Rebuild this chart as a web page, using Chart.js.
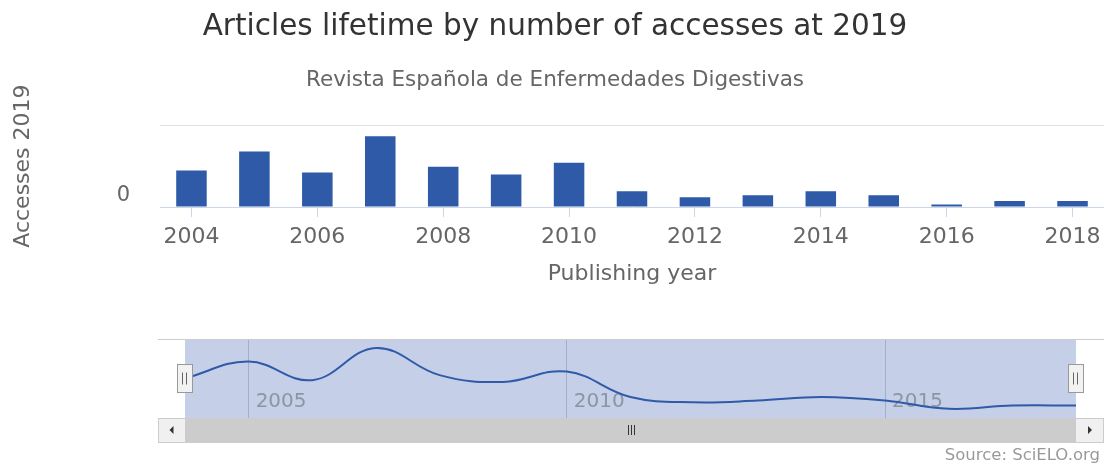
<!DOCTYPE html>
<html>
<head>
<meta charset="utf-8">
<script src="https://cdn.jsdelivr.net/npm/chart.js@4/dist/chart.umd.min.js"></script>
<style>
  html, body { margin: 0; padding: 0; background: #ffffff; }
  #wrap { position: relative; width: 1104px; height: 464px; }
  canvas { position: absolute; left: 0; top: 0; }
</style>
</head>
<body>
<div id="wrap">
  <canvas id="main" width="1104" height="464"></canvas>
  <canvas id="nav" width="1104" height="464"></canvas>
</div>
<script>
// ---- data ----
const titleText = 'Articles lifetime by number of accesses at 2019';
const subtitleText = 'Revista Española de Enfermedades Digestivas';
const yTitle = 'Accesses 2019';
const xTitle = 'Publishing year';
const creditText = 'Source: SciELO.org';
const years = ['2004','2005','2006','2007','2008','2009','2010','2011','2012','2013','2014','2015','2016','2017','2018'];
const accesses = [367, 557, 347, 710, 404, 327, 444, 157, 97, 117, 157, 117, 24, 60, 60];
const yTicks = [0];
const navYears = [2005, 2010, 2015];

const FONT = "'DejaVu Sans', sans-serif";
const BAR = '#2e5aa8';

const creditsPlugin = {
  id: 'credits',
  afterDraw(chart) {
    const ctx = chart.ctx;
    ctx.save();
    ctx.font = '16.5px ' + FONT;
    ctx.fillStyle = '#999999';
    ctx.textAlign = 'right';
    ctx.textBaseline = 'middle';
    ctx.fillText(creditText, 1100, 456);
    ctx.restore();
  }
};

new Chart(document.getElementById('main'), {
  type: 'bar',
  data: {
    labels: years,
    datasets: [{
      data: accesses,
      backgroundColor: BAR,
      borderWidth: 0,
      categoryPercentage: 1,
      barPercentage: 0.485
    }]
  },
  options: {
    responsive: false,
    animation: false,
    layout: { padding: { left: 6, right: 0, top: 0, bottom: 173 } },
    plugins: {
      legend: { display: false },
      tooltip: { enabled: false },
      title: {
        display: true, text: titleText, color: '#333333',
        font: { family: FONT, size: 29.5, weight: 'normal' },
        padding: { top: 10, bottom: 22 }
      },
      subtitle: {
        display: true, text: subtitleText, color: '#666666',
        font: { family: FONT, size: 21.5, weight: 'normal' },
        padding: { top: 0, bottom: 32 }
      }
    },
    scales: {
      x: {
        offset: true,
        grid: {
          offset: false,
          drawOnChartArea: false, drawTicks: true, tickLength: 10,
          color: (c) => (c.index % 2 === 0 ? '#ccd6eb' : 'rgba(0,0,0,0)')
        },
        border: { display: true, color: '#ccd6eb', width: 1 },
        ticks: {
          autoSkip: false, maxRotation: 0, color: '#666666', padding: 7,
          font: { family: FONT, size: 22 },
          callback: (v, i) => (i % 2 === 0 ? years[i] : '')
        },
        title: {
          display: true, text: xTitle, color: '#666666',
          font: { family: FONT, size: 22 }
        },
        afterFit: (s) => { s.height = 84; s.paddingRight = 0; s.paddingLeft = 0; }
      },
      y: {
        min: 0, max: 820,
        afterBuildTicks: (s) => { s.ticks = [{ value: 0 }, { value: 820 }]; },
        grid: {
          drawTicks: false,
          color: (c) => (c.tick && c.tick.value === 0 ? 'rgba(0,0,0,0)' : '#e0e0e0')
        },
        border: { display: false },
        ticks: {
          color: '#666666', padding: 30, labelOffset: -11,
          font: { family: FONT, size: 21 },
          callback: (v) => (yTicks.includes(v) ? String(v) : '')
        },
        title: {
          display: true, text: yTitle, color: '#666666',
          font: { family: FONT, size: 22 }
        },
        afterFit: (s) => { s.width = 154; }
      }
    }
  },
  plugins: [creditsPlugin]
});

// ---- navigator ----
const navDecor = {
  id: 'navDecor',
  beforeDraw(chart) {
    const { ctx, chartArea: a } = chart;
    ctx.save();
    ctx.fillStyle = 'rgb(197,208,232)';
    ctx.fillRect(a.left, a.top, a.right - a.left, a.bottom - a.top);
    ctx.restore();
  },
  beforeDatasetsDraw(chart) {
    const xs = chart.scales.x;
    const ctx = chart.ctx;
    ctx.save();
    ctx.font = '20px ' + FONT;
    ctx.fillStyle = '#8c95a5';
    ctx.textAlign = 'left';
    ctx.textBaseline = 'middle';
    navYears.forEach((v) => {
      ctx.fillText(String(v), xs.getPixelForValue(v) + 7, 402);
    });
    ctx.restore();
  },
  afterDraw(chart) {
    const { ctx, chartArea: a } = chart;
    ctx.save();
    // top outline
    ctx.strokeStyle = '#cccccc';
    ctx.lineWidth = 1;
    ctx.beginPath();
    ctx.moveTo(158, a.top - 0.5); ctx.lineTo(1104, a.top - 0.5);
    ctx.stroke();
    // scrollbar
    const sy = a.bottom, sh = 24;
    ctx.fillStyle = '#cccccc';
    ctx.fillRect(a.left, sy, a.right - a.left, sh);
    ctx.fillStyle = '#f0f0f0';
    ctx.fillRect(158, sy, a.left - 158, sh);
    ctx.fillRect(a.right, sy, 1104 - a.right, sh);
    ctx.strokeStyle = '#cccccc';
    ctx.strokeRect(158.5, sy + 0.5, 1104 - 159, sh);
    // arrows
    ctx.fillStyle = '#333333';
    const cyA = sy + sh / 2;
    const lx = (158 + a.left) / 2, rx = (a.right + 1104) / 2;
    ctx.beginPath(); ctx.moveTo(lx - 2, cyA); ctx.lineTo(lx + 2, cyA - 4); ctx.lineTo(lx + 2, cyA + 4); ctx.closePath(); ctx.fill();
    ctx.beginPath(); ctx.moveTo(rx + 2, cyA); ctx.lineTo(rx - 2, cyA - 4); ctx.lineTo(rx - 2, cyA + 4); ctx.closePath(); ctx.fill();
    // grip
    const gx = (a.left + a.right) / 2;
    ctx.strokeStyle = '#333333';
    for (let i = -1; i <= 1; i++) {
      ctx.beginPath(); ctx.moveTo(Math.round(gx + i * 3) + 0.5, cyA - 5); ctx.lineTo(Math.round(gx + i * 3) + 0.5, cyA + 5); ctx.stroke();
    }
    // handles
    [a.left, a.right].forEach((hx) => {
      const x0 = Math.round(hx - 8) + 0.5, y0 = 364.5;
      ctx.fillStyle = '#f2f2f2';
      ctx.strokeStyle = '#999999';
      ctx.fillRect(x0, y0, 15, 28);
      ctx.strokeRect(x0, y0, 15, 28);
      ctx.strokeStyle = '#666666';
      ctx.beginPath();
      ctx.moveTo(x0 + 5, y0 + 8); ctx.lineTo(x0 + 5, y0 + 20);
      ctx.moveTo(x0 + 9, y0 + 8); ctx.lineTo(x0 + 9, y0 + 20);
      ctx.stroke();
    });
    ctx.restore();
  }
};

new Chart(document.getElementById('nav'), {
  type: 'line',
  data: {
    datasets: [{
      data: years.map((y, i) => ({ x: Number(y), y: accesses[i] })),
      borderColor: BAR,
      borderWidth: 2,
      pointRadius: 0,
      tension: 0.4,
      fill: false
    }]
  },
  options: {
    responsive: false,
    animation: false,
    layout: { padding: { left: 185, right: 28, top: 340, bottom: 46 } },
    plugins: { legend: { display: false }, tooltip: { enabled: false } },
    scales: {
      x: {
        type: 'linear', min: 2004, max: 2018,
        afterBuildTicks: (s) => { s.ticks = navYears.map((v) => ({ value: v })); },
        grid: { drawOnChartArea: true, drawTicks: false, color: 'rgba(120,135,165,0.45)' },
        border: { display: false },
        ticks: { display: false },
        afterFit: (s) => { s.height = 0; }
      },
      y: { display: false, min: -80, max: 800 }
    }
  },
  plugins: [navDecor]
});
</script>
</body>
</html>
